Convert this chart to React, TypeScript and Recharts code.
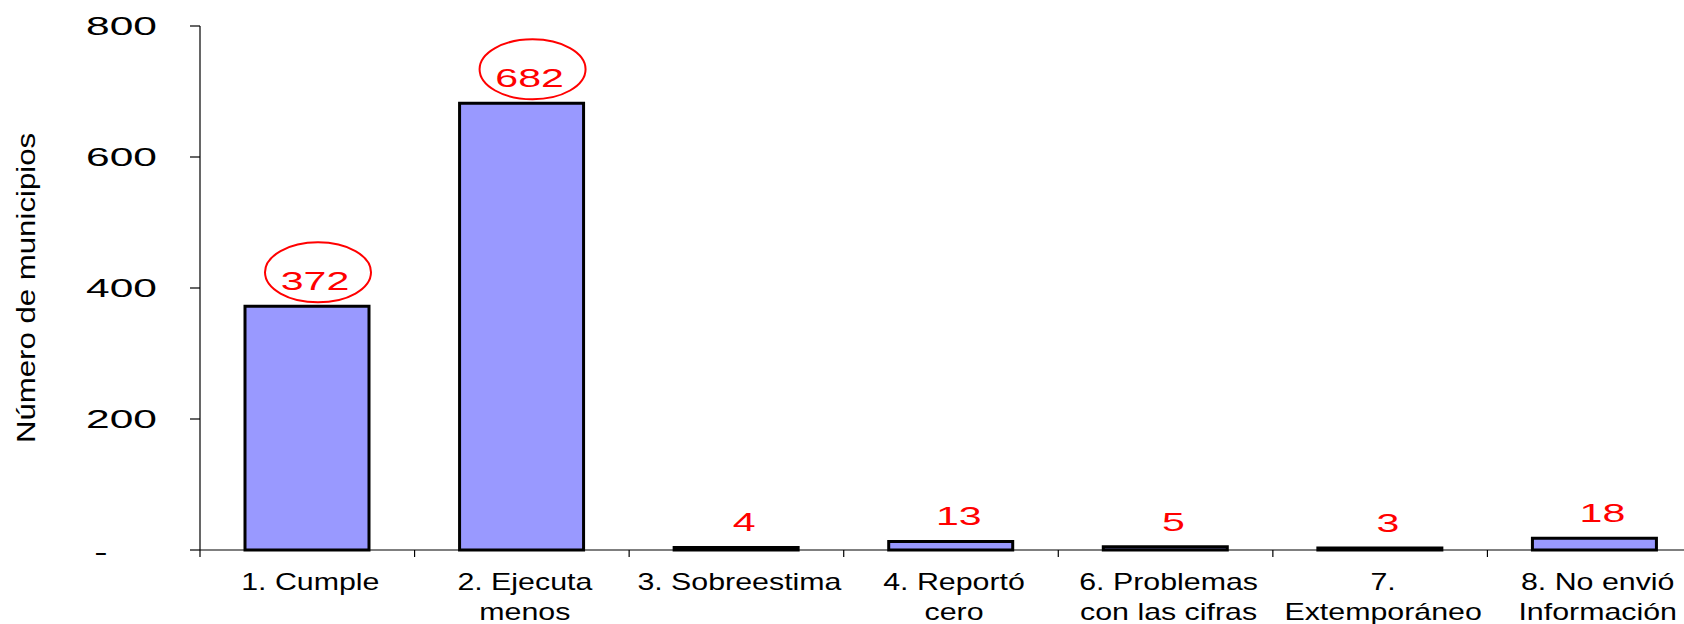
import React from "react";
import { BarChart, Bar, XAxis, YAxis, LabelList } from "recharts";

// categories (line breaks as in the original labels)
const categories = [
  "1. Cumple",
  "2. Ejecuta\nmenos",
  "3. Sobreestima",
  "4. Reportó\ncero",
  "6. Problemas\ncon las cifras",
  "7.\nExtemporáneo",
  "8. No envió\nInformación",
];
const municipios = [372, 682, 4, 13, 5, 3, 18];
const circled = [true, true, false, false, false, false, false];
const yTicks = [0, 200, 400, 600, 800];
const yTitle = "Número de municipios";

const CHART_W = 1702;
const CHART_H = 624;
const YAXIS_W = 200;
const BAND = (CHART_W - YAXIS_W) / categories.length;
const FONT = "'Liberation Sans', Arial, sans-serif";

const data = categories.map((name, i) => ({
  name,
  value: municipios[i],
}));

const YTick = (props: any) => {
  const { x, y, payload } = props;
  if (payload.value === 0) {
    return (
      <text x={0} y={0} transform={`translate(101,${y + 11}) scale(1.6,1)`} textAnchor="middle" fontSize={25} fontFamily={FONT} fill="#000">
        -
      </text>
    );
  }
  return (
    <text x={0} y={0} transform={`translate(${x - 31},${y + 9}) scale(1.7,1)`} textAnchor="end" fontSize={25} fontFamily={FONT} fill="#000">
      {payload.value}
    </text>
  );
};

const XTick = (props: any) => {
  const { x, y, payload } = props;
  const lines = String(payload.value).split("\n");
  const axisY = y - 8;
  const left = x - BAND / 2;
  return (
    <g>
      <line x1={left} x2={left} y1={axisY} y2={axisY + 7} stroke="#000" strokeWidth={1.2} />
      {lines.map((ln, i) => (
        <text
          key={i}
          x={0}
          y={0}
          transform={`translate(${x + 3},${axisY + 40 + i * 30}) scale(1.32,1)`}
          textAnchor="middle"
          fontSize={23}
          fontFamily={FONT}
          fill="#000"
        >
          {ln}
        </text>
      ))}
    </g>
  );
};

const ValueLabel = (props: any) => {
  const { x, y, width, value, index } = props;
  const cx = x + width / 2 + 8;
  const base = y - 16;
  return (
    <g>
      {circled[index] && (
        <ellipse cx={cx + 3} cy={base - 18} rx={53} ry={30} fill="none" stroke="#FF0000" strokeWidth={2} />
      )}
      <text x={0} y={0} transform={`translate(${cx},${base}) scale(1.58,1)`} textAnchor="middle" fontSize={26} fontFamily={FONT} fill="#FF0000">
        {value}
      </text>
    </g>
  );
};

export default function App() {
  return (
    <div style={{ position: "fixed", left: 0, top: 0, width: 1684, height: 624, overflow: "hidden", background: "#fff" }}>
      <BarChart width={CHART_W} height={CHART_H} data={data} margin={{ top: 26, right: 0, bottom: 0, left: 0 }}>
        <XAxis
          dataKey="name"
          interval={0}
          height={74}
          tickLine={false}
          axisLine={{ stroke: "#000", strokeWidth: 1.2 }}
          tick={<XTick />}
        />
        <YAxis
          domain={[0, 800]}
          ticks={yTicks}
          width={YAXIS_W}
          tickSize={10}
          tickLine={{ stroke: "#000", strokeWidth: 1.2 }}
          axisLine={{ stroke: "#000", strokeWidth: 1.2 }}
          tick={<YTick />}
        />
        <Bar dataKey="value" fill="#9999FF" stroke="#000" strokeWidth={3} barSize={124} isAnimationActive={false}>
          <LabelList dataKey="value" content={<ValueLabel />} />
        </Bar>
      </BarChart>
      {/* axis title drawn as an overlay so its rotation is not touched by the axis */}
      <svg width={60} height={624} style={{ position: "absolute", left: 0, top: 0 }}>
        <text
          x={0}
          y={0}
          transform="translate(35,288) rotate(-90) scale(1.2,1)"
          textAnchor="middle"
          fontSize={26}
          fontFamily={FONT}
          fill="#000"
        >
          {yTitle}
        </text>
      </svg>
    </div>
  );
}
